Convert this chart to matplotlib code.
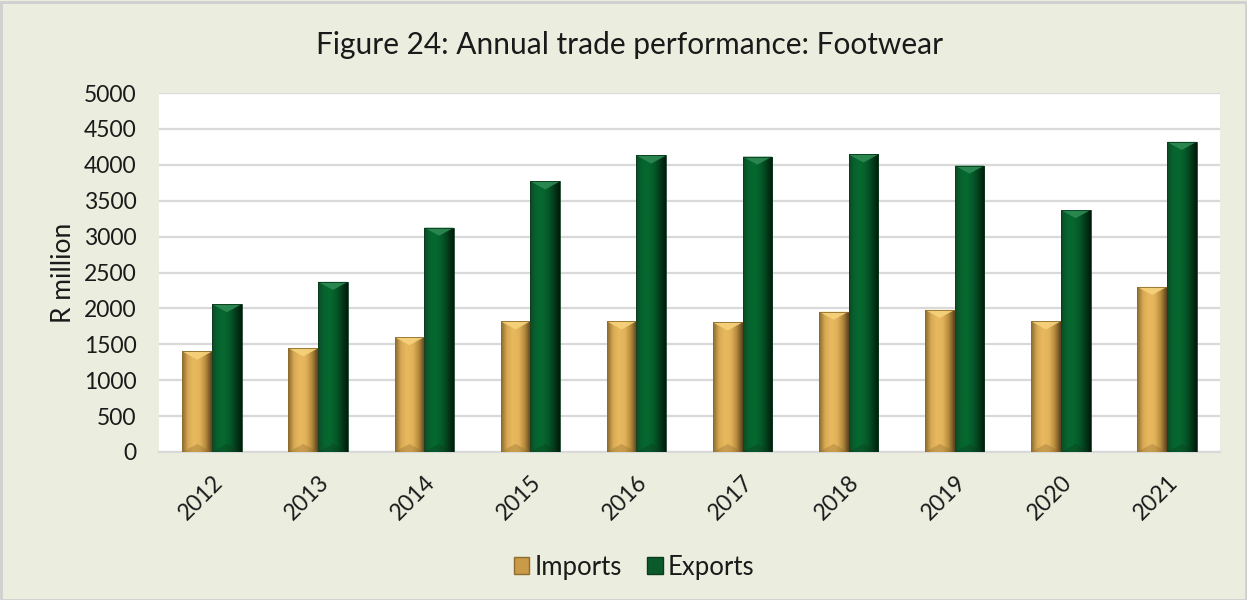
import numpy as np
import matplotlib
matplotlib.use("Agg")
import matplotlib.pyplot as plt
from matplotlib.patches import Polygon, Rectangle, Patch
from matplotlib.colors import LinearSegmentedColormap

years = ["2012", "2013", "2014", "2015", "2016", "2017", "2018", "2019", "2020", "2021"]
imports = [1400, 1445, 1600, 1820, 1820, 1805, 1955, 1980, 1820, 2300]
exports = [2060, 2370, 3125, 3770, 4130, 4115, 4145, 3990, 3370, 4320]
series_names = ["Imports", "Exports"]

BG = "#EBEEDF"
plt.rcParams['font.family'] = ['Lato', 'DejaVu Sans']

fig = plt.figure(figsize=(12.47, 6.0), dpi=100)
fig.patch.set_facecolor(BG)
W, H = 1247, 600
ax = fig.add_axes([159 / W, 1 - 452 / H, (1220 - 159) / W, (452 - 93) / H])
ax.set_facecolor("white")

x = np.arange(len(years))
bw = 0.28
gold_cmap = LinearSegmentedColormap.from_list("g", ["#8a6a2c", "#d9aa55", "#e9b95f", "#e3b35a", "#b58a3c", "#5a4320"])
green_cmap = LinearSegmentedColormap.from_list("gr", ["#0f4a26", "#05652f", "#06692f", "#055a29", "#033d1b", "#011a0b"])

b1 = ax.bar(x - bw / 2, imports, bw, color="#E3B35A", label=series_names[0], zorder=3)
b2 = ax.bar(x + bw / 2, exports, bw, color="#05622E", label=series_names[1], zorder=3)

ax.set_ylim(0, 5000)
ax.set_xlim(-0.5, len(years) - 0.5)
ax.set_yticks(np.arange(0, 5001, 500))
ax.yaxis.grid(True, color="#D9D9D9", linewidth=1.6, zorder=0)
ax.set_axisbelow(True)
for s in ["top", "right", "left"]:
    ax.spines[s].set_visible(False)
ax.spines["bottom"].set_color("#D9D9D9")
ax.spines["bottom"].set_linewidth(1.6)
ax.tick_params(axis="both", length=0, labelsize=16.5, colors="#1a1a1a")
ax.tick_params(axis="y", pad=16)
ax.set_xticks(x)
ax.set_xticklabels(years, rotation=45, ha="right", rotation_mode="anchor")
ax.tick_params(axis="x", pad=14)
ax.set_ylabel("R million", fontsize=19, color="#1a1a1a", labelpad=6)

# gradient shading + bevel
fig.canvas.draw()
px_per_unit = ax.transData.transform((0, 1000))[1] - ax.transData.transform((0, 0))[1]
px_per_unit /= 1000.0
bevel_units = 9 / px_per_unit
grad = np.linspace(0, 1, 64).reshape(1, -1)
for bars, cmap, light, dark in [(b1, gold_cmap, "#F6D27C", "#8E6C2E"), (b2, green_cmap, "#2E8A53", "#0B3A1E")]:
    for bar in bars:
        bx, by = bar.get_x(), bar.get_y()
        w, h = bar.get_width(), bar.get_height()
        im = ax.imshow(grad, cmap=cmap, aspect="auto", extent=(bx, bx + w, by, by + h),
                       zorder=3.5, interpolation="bicubic")
        im.set_clip_path(bar)
        bar.set_facecolor("none")
        top = by + h
        ax.add_patch(Polygon([(bx, top), (bx + w, top), (bx + w / 2, top - bevel_units * 0.9)],
                             closed=True, facecolor=light, edgecolor="none", zorder=4, alpha=0.9))
        ax.add_patch(Polygon([(bx, by), (bx + w, by), (bx + w / 2, by + bevel_units * 0.9)],
                             closed=True, facecolor=dark, edgecolor="none", zorder=4, alpha=0.35))
        ax.add_patch(Rectangle((bx, by), w, h, facecolor="none", edgecolor=dark, linewidth=0.6, zorder=4.2))
ax.set_xlim(-0.5, len(years) - 0.5)
ax.set_ylim(0, 5000)

fig.text(630 / W, 1 - 45 / H, "Figure 24: Annual trade performance: Footwear",
         ha="center", va="center", fontsize=21.5, color="#1a1a1a")

handles = [Patch(facecolor="#C99A48", edgecolor="#8E6C2E"), Patch(facecolor="#0B5A2B", edgecolor="#0B3A1E")]
leg = fig.legend(handles, series_names, loc="center", bbox_to_anchor=(634 / W, 1 - 567 / H), ncol=2,
                 frameon=False, fontsize=18.5, handlelength=0.6, handleheight=0.6, handletextpad=0.2,
                 columnspacing=1.0)
for t in leg.get_texts():
    t.set_color("#1a1a1a")

# outer border
fig.add_artist(Rectangle((0.5 / W, 0.5 / H), 1 - 2 / W, 1 - 2 / H, transform=fig.transFigure,
                         facecolor="none", edgecolor="#D0D0D0", linewidth=2))

fig.savefig("out.png", dpi=100, facecolor=BG)
